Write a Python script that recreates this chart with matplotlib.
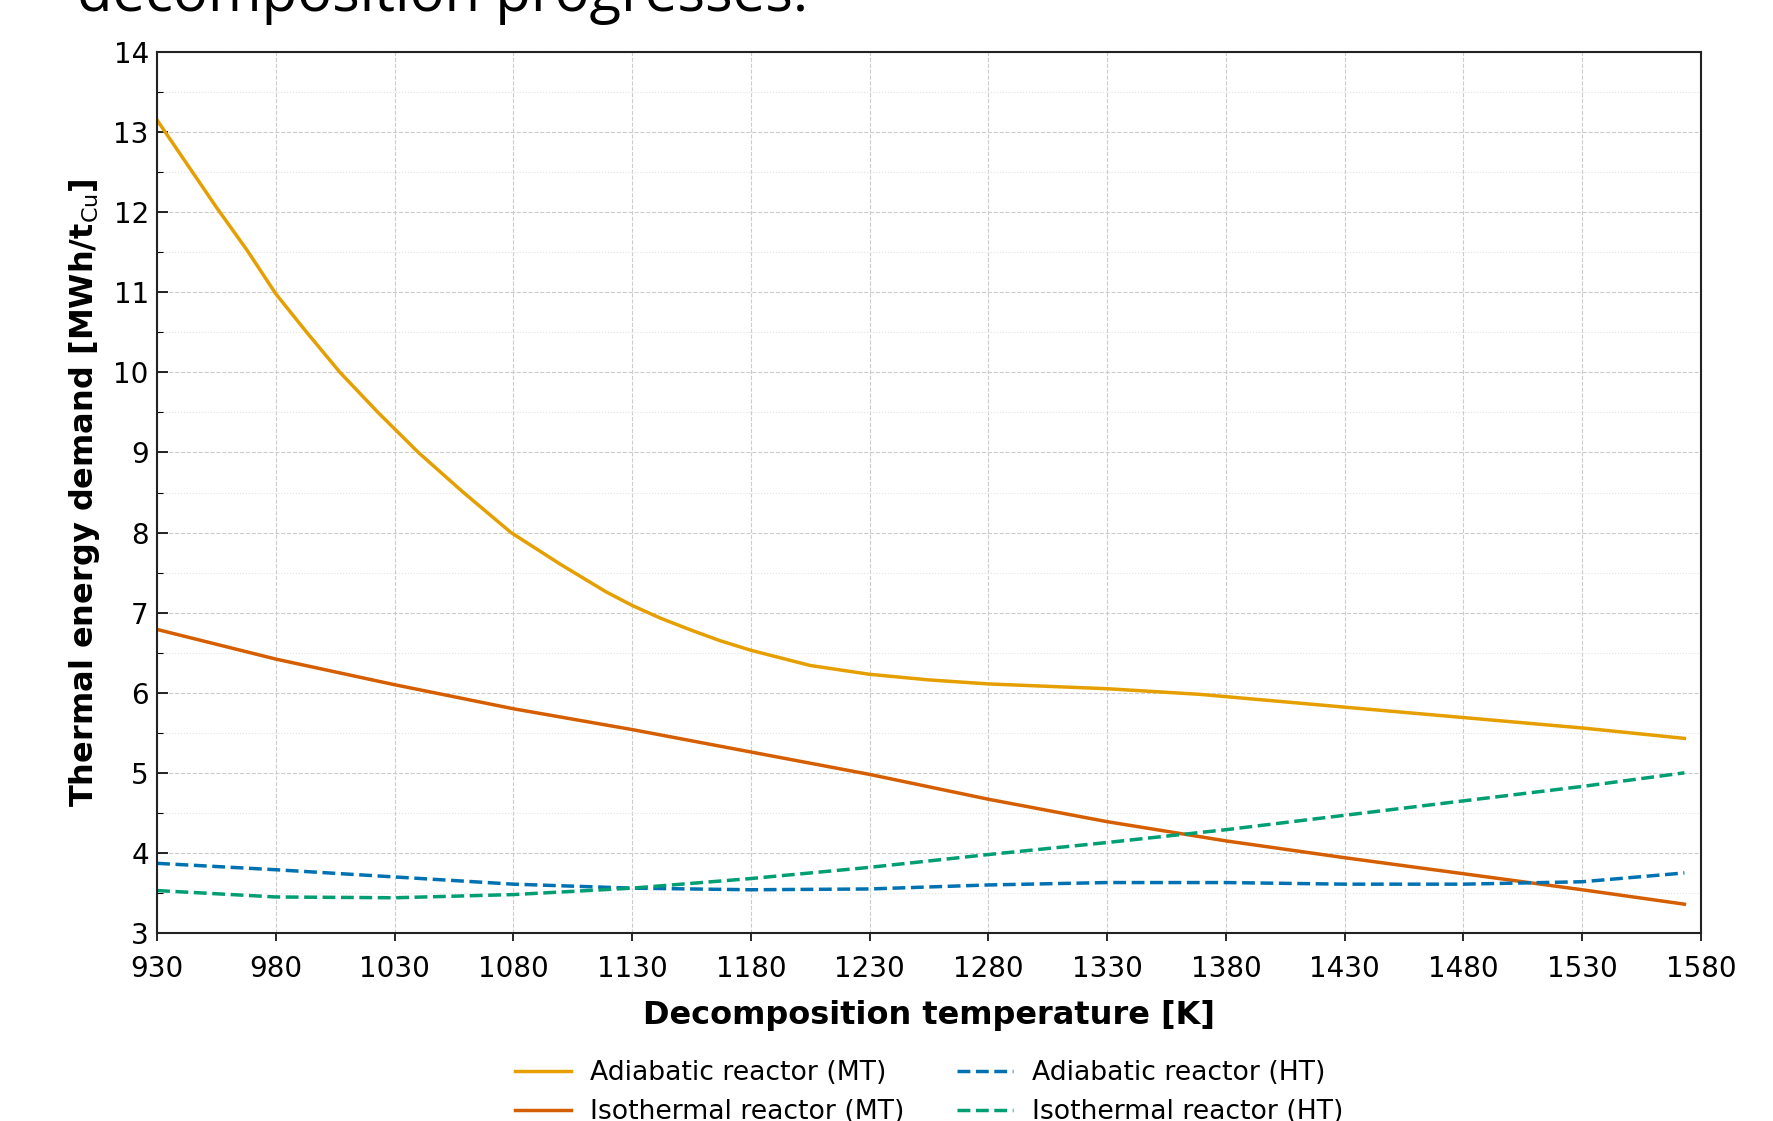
import matplotlib
matplotlib.use("Agg")
import matplotlib.pyplot as plt
from matplotlib.ticker import MultipleLocator

# Data
temp_adi_mt = [930, 955, 968, 980, 993, 1007, 1023, 1040, 1059, 1079, 1100, 1119, 1130, 1142, 1155,
               1167, 1180, 1205, 1230, 1255, 1280, 1330, 1369, 1430, 1480, 1530, 1573]
adiabatic_mt = [13.15, 12.06, 11.52, 10.98, 10.5, 10.0, 9.5, 9.0, 8.5, 8.0, 7.6, 7.26, 7.09, 6.93, 6.78,
                6.65, 6.53, 6.34, 6.23, 6.16, 6.11, 6.05, 5.98, 5.82, 5.69, 5.56, 5.43]

temp = [930, 980, 1030, 1080, 1130, 1180, 1230, 1280, 1330, 1380, 1430, 1480, 1530, 1573]
isothermal_mt = [6.79, 6.42, 6.1, 5.8, 5.54, 5.26, 4.98, 4.67, 4.39, 4.15, 3.94, 3.74, 3.54, 3.36]
adiabatic_ht = [3.87, 3.79, 3.7, 3.61, 3.56, 3.54, 3.55, 3.60, 3.63, 3.63, 3.61, 3.61, 3.64, 3.75]
isothermal_ht = [3.53, 3.45, 3.44, 3.48, 3.56, 3.68, 3.82, 3.98, 4.13, 4.29, 4.47, 4.65, 4.83, 5.0]

labels = ["Adiabatic reactor (MT)", "Isothermal reactor (MT)",
          "Adiabatic reactor (HT)", "Isothermal reactor (HT)"]
colors = ["#E69F00", "#D55E00", "#0072B2", "#009E73"]

xticks = list(range(930, 1581, 50))

fig = plt.figure(figsize=(17.73, 11.21), dpi=100)
ax = fig.add_axes([0.0886, 0.1677, 0.8708, 0.7859])

ax.plot(temp_adi_mt, adiabatic_mt, color=colors[0], lw=2.5, label=labels[0])
ax.plot(temp, isothermal_mt, color=colors[1], lw=2.5, label=labels[1])
ax.plot(temp, adiabatic_ht, color=colors[2], lw=2.5, ls='--', label=labels[2])
ax.plot(temp, isothermal_ht, color=colors[3], lw=2.5, ls='--', label=labels[3])

ax.set_xlim(930, 1580)
ax.set_ylim(3, 14)
ax.set_xticks(xticks)
ax.yaxis.set_major_locator(MultipleLocator(1))
ax.yaxis.set_minor_locator(MultipleLocator(0.5))
ax.tick_params(axis='x', direction='out', labelsize=20, length=6, width=1.2, pad=10)
ax.tick_params(axis='y', which='major', direction='in', labelsize=20, length=8, width=1.2, pad=6)
ax.tick_params(axis='y', which='minor', direction='in', length=4, width=0.8)
ax.grid(True, which='major', ls='--', lw=0.8, color='#cccccc')
ax.grid(True, which='minor', axis='y', ls=':', lw=0.8, color='#e3e3e3')
for s in ax.spines.values():
    s.set_linewidth(1.5)
    s.set_color('#222222')

ax.set_xlabel("Decomposition temperature [K]", fontsize=23, fontweight='bold', labelpad=12)
ax.set_ylabel(r"Thermal energy demand [MWh/t$_{\mathrm{Cu}}$]", fontsize=23,
              fontweight='bold', labelpad=8)

ax.legend(loc='upper center', bbox_to_anchor=(0.5, -0.117), ncol=2, frameon=False,
          fontsize=19.2, handlelength=2.1, handletextpad=0.7, columnspacing=2.0)

fig.text(77, 1121 - 11, "decomposition progresses.", transform=None,
         fontsize=41.8, family="Open Sans", va='baseline', ha='left')

fig.savefig("out.png", dpi=100)
